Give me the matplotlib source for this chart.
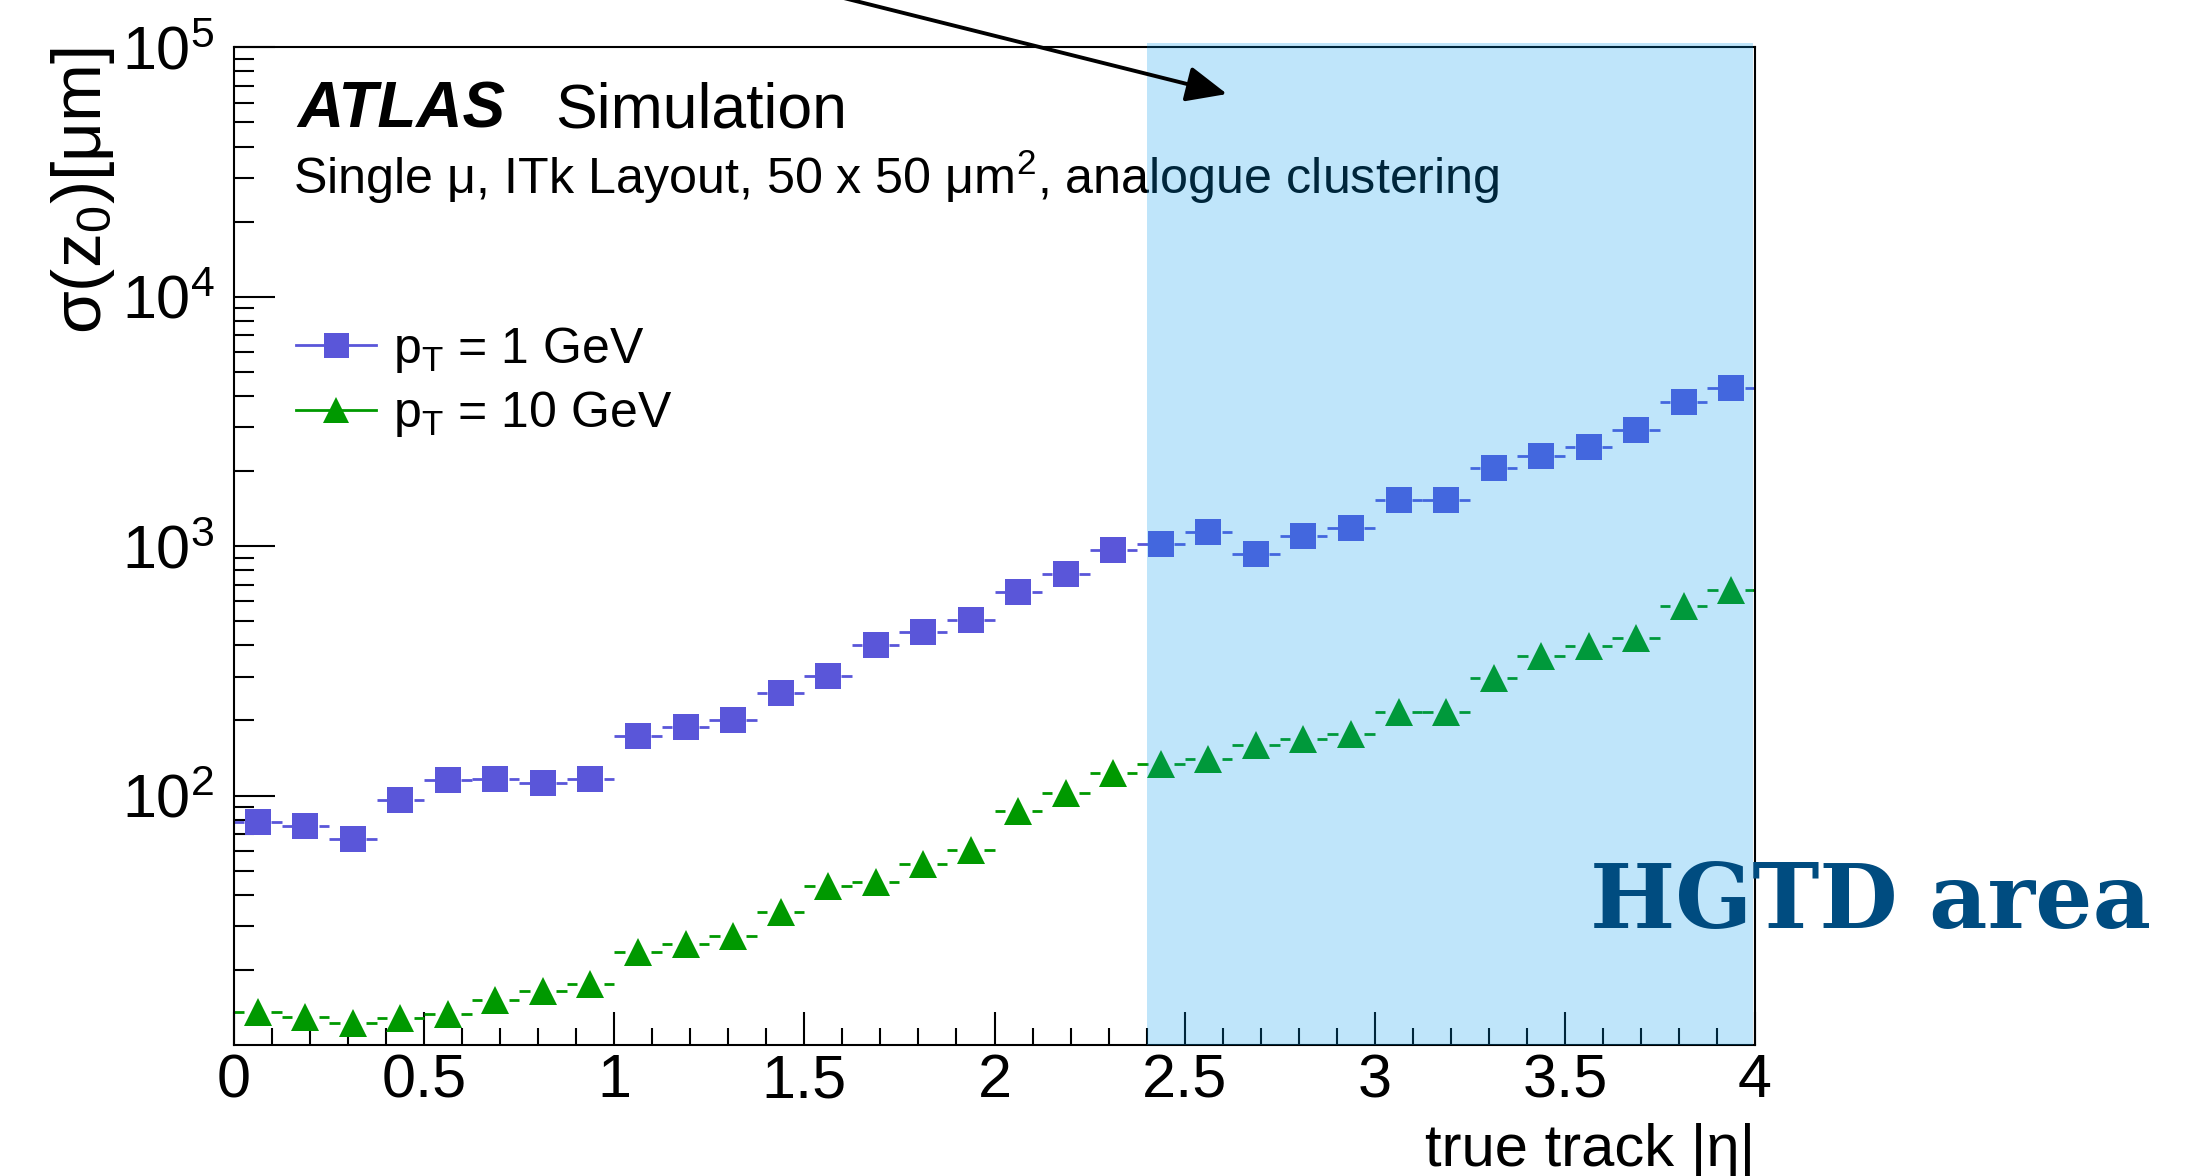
import numpy as np
import matplotlib
matplotlib.use("Agg")
import matplotlib.pyplot as plt
from matplotlib.lines import Line2D
from matplotlib.patches import FancyArrowPatch
from matplotlib.ticker import FixedLocator, MultipleLocator, FormatStrFormatter, LogFormatterMathtext

plt.rcParams['font.family'] = 'Liberation Sans'
plt.rcParams['mathtext.fontset'] = 'custom'
plt.rcParams['mathtext.rm'] = 'Liberation Sans'
plt.rcParams['mathtext.it'] = 'Liberation Sans:italic'
plt.rcParams['mathtext.bf'] = 'Liberation Sans:bold'

# |eta| bin centres (bin width 0.125)
eta = [0.0625, 0.1875, 0.3125, 0.4375, 0.5625, 0.6875, 0.8125, 0.9375,
       1.0625, 1.1875, 1.3125, 1.4375, 1.5625, 1.6875, 1.8125, 1.9375,
       2.0625, 2.1875, 2.3125, 2.4375, 2.5625, 2.6875, 2.8125, 2.9375,
       3.0625, 3.1875, 3.3125, 3.4375, 3.5625, 3.6875, 3.8125, 3.9375]
half_bin = 0.0625

# sigma(z0) in um
sigma_1gev = [78, 75.5, 67, 96, 115, 116, 112, 117,
              174, 189, 201, 257, 301, 401, 454, 504,
              655, 775, 967, 1020, 1142, 927, 1101, 1183,
              1525, 1525, 2066, 2295, 2494, 2932, 3780, 4309]
sigma_10gev = [13.6, 13.0, 12.2, 12.8, 13.3, 15.1, 16.5, 17.6,
               23.6, 25.3, 27.4, 34.2, 43.2, 45.0, 53.0, 60.3,
               86.9, 102, 123, 134, 140, 159, 168, 176,
               217, 217, 296, 362, 397, 430, 575, 664]

labels = [r'p$_{\mathrm{T}}$ = 1 GeV', r'p$_{\mathrm{T}}$ = 10 GeV']
col_1gev = '#5a56d9'
col_10gev = '#009900'

fig = plt.figure(figsize=(21.98, 11.76), dpi=100)
ax = fig.add_axes([0.10646, 0.1114, 0.6920, 0.8484])

x = np.array(eta)
gap = 0.035
for vals, col, mk, ms in [(sigma_1gev, col_1gev, 's', 18.7),
                          (sigma_10gev, col_10gev, '^', 19.5)]:
    y = np.array(vals)
    ax.hlines(y, x - half_bin, x - gap, color=col, lw=2, zorder=2)
    ax.hlines(y, x + gap, x + half_bin, color=col, lw=2, zorder=2)
    ax.plot(x, y, ls='none', marker=mk, ms=ms, color=col, mew=0, zorder=3)

ax.set_xlim(0, 4)
ax.set_yscale('log')
ax.set_ylim(10, 1e5)

ax.xaxis.set_major_locator(MultipleLocator(0.5))
ax.xaxis.set_minor_locator(MultipleLocator(0.1))
ax.xaxis.set_major_formatter(FormatStrFormatter('%g'))
ax.yaxis.set_major_locator(FixedLocator([1e2, 1e3, 1e4, 1e5]))
ax.yaxis.set_major_formatter(LogFormatterMathtext())
ax.yaxis.set_minor_locator(FixedLocator([m * 10.0 ** d for d in range(1, 5) for m in range(2, 10)]))
ax.yaxis.set_minor_formatter(plt.NullFormatter())

ax.tick_params(axis='both', which='both', direction='in', top=False, right=False,
               width=1.5, labelsize=44)
ax.tick_params(axis='x', which='major', length=24, pad=6)
ax.tick_params(axis='x', which='minor', length=12)
ax.tick_params(axis='y', which='major', length=29.5, pad=14)
ax.tick_params(axis='y', which='minor', length=14.5)
for s in ax.spines.values():
    s.set_linewidth(1.5)

ax.set_xlabel('true track |η|', fontsize=43, ha='right')
ax.xaxis.set_label_coords(1.0, -0.078)
ax.set_ylabel(r'σ(z$_{0}$)[μm]', fontsize=50, ha='right')
ax.yaxis.set_label_coords(-0.077, 1.0)

ax.text(0.0414, 0.920, 'ATLAS', transform=ax.transAxes, fontsize=46,
        fontweight='bold', style='italic')
ax.text(0.211, 0.920, 'Simulation', transform=ax.transAxes, fontsize=45)
ax.text(0.0390, 0.853, r'Single μ, ITk Layout, 50 x 50 μm$^{2}$, analogue clustering',
        transform=ax.transAxes, fontsize=36.2)

handles = [Line2D([], [], color=col_1gev, lw=2, marker='s', ms=18, mew=0),
           Line2D([], [], color=col_10gev, lw=2, marker='^', ms=19, mew=0)]
ax.legend(handles, labels, loc='upper left', bbox_to_anchor=(0.0408, 0.722),
          frameon=False, fontsize=36, handlelength=1.6, handletextpad=0.33,
          labelspacing=0.29, borderpad=0, borderaxespad=0)

# HGTD coverage band
ax.axvspan(2.4, 3.996, ymin=0, ymax=1.004, color=(0, 155 / 255, 239 / 255),
           alpha=0.25, lw=0, zorder=5, clip_on=False)

fig.text(1590 / 2198, 1 - 928 / 1176, 'HGTD area', fontfamily='DejaVu Serif',
         fontweight='bold', fontsize=65, color='#004c80', ha='left',
         va='baseline', zorder=10)

arrow = FancyArrowPatch((700 / 2198, (1176 + 38) / 1176), (1227 / 2198, 1082 / 1176),
                        transform=fig.transFigure, arrowstyle='-|>,head_length=25,head_width=11',
                        mutation_scale=1, lw=2.8, color='black', shrinkA=0, shrinkB=0,
                        zorder=11)
fig.patches.append(arrow)

fig.savefig('out.png', dpi=100)
